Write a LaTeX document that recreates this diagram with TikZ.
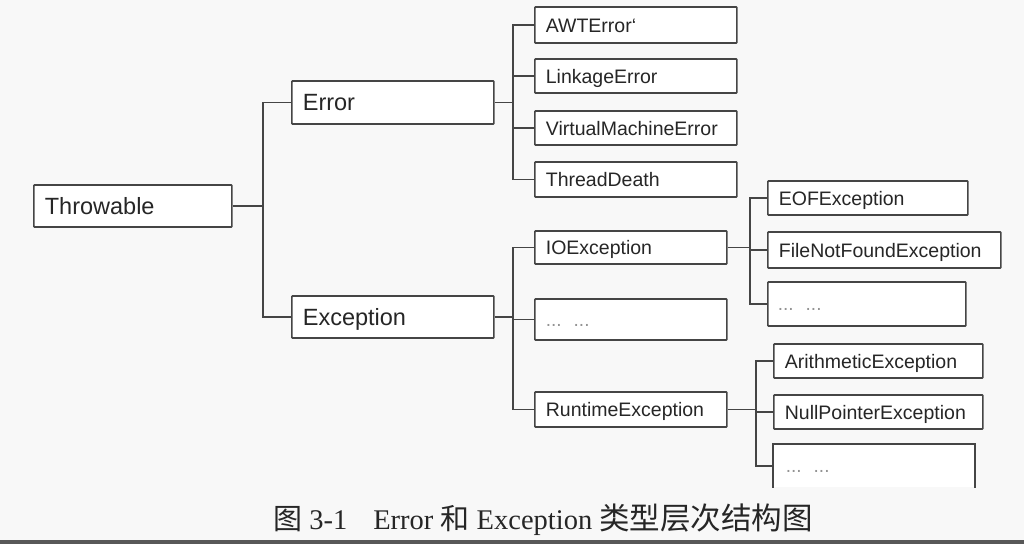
\documentclass[tikz,border=0pt]{standalone}
\usepackage{fontspec}
\setmainfont{Liberation Sans}
\newfontfamily\capfont{Liberation Serif}
\newfontfamily\cjk{Noto Sans CJK SC}
\definecolor{ln}{HTML}{454545}
\definecolor{tx}{HTML}{262626}
\definecolor{bgc}{HTML}{F8F8F8}
\begin{document}
\begin{tikzpicture}[x=1pt,y=-1pt,
  box/.style={draw=ln, line width=1.7pt, fill=white, inner xsep=11pt, inner ysep=0pt,
              align=left, text=tx, rounded corners=0.8pt, anchor=west},
  big/.style={font=\fontsize{23.5}{26}\selectfont, text height=20pt, text depth=3.2pt},
  small/.style={font=\fontsize{19.5}{22}\selectfont, text height=17pt, text depth=3pt},
  dotsbox/.style={font=\fontsize{19}{20}\selectfont, text=gray!85},
  wire/.style={draw=ln, line width=1.7pt}
]
\fill[bgc] (0,0) rectangle (1024,544);
\useasboundingbox (0,0) rectangle (1024,544);
\fill[ln!90] (0,540) rectangle (1024,544);

% level 0 and 1
\node[box,big,text width=176pt,minimum height=42pt] (thr) at (33,206) {Throwable};
\node[box,big,text width=180pt,minimum height=43pt] (err) at (291,102.5) {Error};
\node[box,big,text width=180pt,minimum height=42pt] (exc) at (291,317) {Exception};

% Error children
\node[box,small,text width=180pt,minimum height=36pt] (awt) at (534,25) {AWTError`};
\node[box,small,text width=180pt,minimum height=34pt] (link) at (534,76) {LinkageError};
\node[box,small,text width=180pt,minimum height=34pt] (vme) at (534,128) {VirtualMachineError};
\node[box,small,text width=180pt,minimum height=35pt] (td) at (534,179.5) {ThreadDeath};

% Exception children
\node[box,small,text width=170pt,minimum height=33pt] (io) at (534,247.5) {IOException};
\node[box,dotsbox,text width=170pt,minimum height=41pt] (mid) at (534,319.5) {\vphantom{A}...\hspace{12pt}...};
\node[box,small,text width=170pt,minimum height=35pt] (rt) at (534,409.5) {RuntimeException};

% IOException children
\node[box,small,text width=178pt,minimum height=34pt] (eof) at (767,198) {EOFException};
\node[box,small,text width=211pt,minimum height=36pt] (fnf) at (767,250) {FileNotFoundException};
\node[box,dotsbox,text width=178pt,minimum height=44pt,inner xsep=10pt] (iod) at (767,304) {\vphantom{A}...\hspace{12pt}...};

% RuntimeException children
\node[box,small,text width=187pt,minimum height=34pt] (ari) at (773,361) {ArithmeticException};
\node[box,small,text width=187pt,minimum height=34pt] (npe) at (773,412) {NullPointerException};
\node[box,dotsbox,draw=none,text width=176pt,minimum height=42pt,inner xsep=12pt,rounded corners=0pt] (rtd) at (773,466) {\vphantom{A}...\hspace{12pt}...};
\draw[wire] (rtd.south west) -- (rtd.north west) -- (rtd.north east) -- (rtd.south east);

% bus coordinates
\coordinate (b1) at (263,0);
\coordinate (b2) at (513,0);
\coordinate (b3) at (750,0);
\coordinate (b4) at (756,0);

% Throwable -> Error / Exception
\draw[wire] (thr.east) -- (thr.east -| b1);
\draw[wire] (err.west) -- (err.west -| b1) -- (exc.west -| b1) -- (exc.west);

% Error -> children
\draw[wire] (err.east) -- (err.east -| b2);
\draw[wire] (awt.west) -- (awt.west -| b2) -- (td.west -| b2) -- (td.west);
\draw[wire] (link.west) -- (link.west -| b2);
\draw[wire] (vme.west) -- (vme.west -| b2);

% Exception -> children
\draw[wire] (exc.east) -- (exc.east -| b2);
\draw[wire] (io.west) -- (io.west -| b2) -- (rt.west -| b2) -- (rt.west);
\draw[wire] (mid.west) -- (mid.west -| b2);

% IOException -> children
\draw[wire] (io.east) -- (io.east -| b3);
\draw[wire] (eof.west) -- (eof.west -| b3) -- (iod.west -| b3) -- (iod.west);
\draw[wire] (fnf.west) -- (fnf.west -| b3);

% RuntimeException -> children
\draw[wire] (rt.east) -- (rt.east -| b4);
\draw[wire] (ari.west) -- (ari.west -| b4) -- (rtd.west -| b4) -- (rtd.west);
\draw[wire] (npe.west) -- (npe.west -| b4);

% caption
\node[anchor=base west, inner sep=0pt, text=tx] (cap) at (273,529)
  {\fontsize{28.5}{30}\selectfont{\cjk\fontsize{29}{30}\selectfont 图}\capfont\ 3-1\hspace{26pt}Error
   {\cjk\fontsize{29}{30}\selectfont 和} Exception {\cjk\fontsize{30.5}{30}\selectfont 类型层次结构图}};
\end{tikzpicture}
\end{document}
